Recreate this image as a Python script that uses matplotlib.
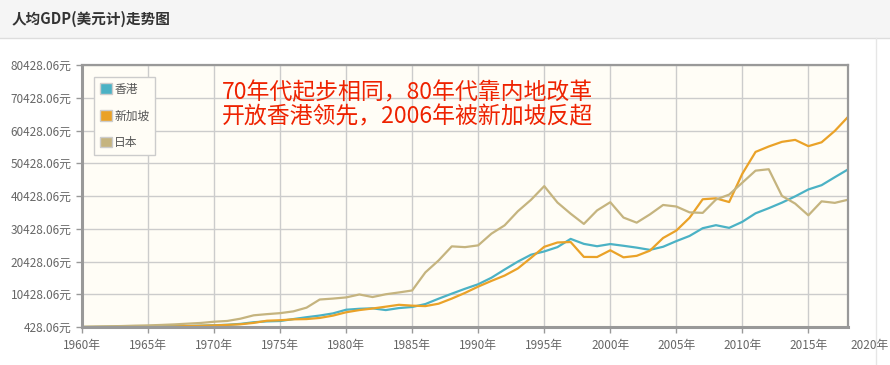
import matplotlib.pyplot as plt
import matplotlib.patches as mpatches

plt.rcParams['font.family'] = ['Noto Sans CJK SC', 'DejaVu Sans']

years = list(range(1960, 2019))

# 人均GDP (美元)
hong_kong = [429, 442, 485, 561, 636, 713, 718, 765, 735, 832,
             960, 1104, 1379, 1886, 2145, 2253, 2844, 3418, 3926, 4581,
             5700, 5991, 6134, 5595, 6208, 6543, 7435, 9072, 10610, 12098,
             13486, 15466, 17976, 20396, 22503, 23497, 24818, 27330, 25809, 25092,
             25757, 25230, 24666, 23977, 24928, 26650, 28224, 30594, 31516, 30697,
             32550, 35142, 36708, 38404, 40315, 42431, 43731, 46166, 48543]
singapore = [428, 449, 472, 511, 485, 517, 567, 626, 708, 813,
             925, 1071, 1264, 1685, 2342, 2490, 2770, 2846, 3194, 3900,
             4928, 5596, 6078, 6633, 7206, 6945, 6809, 7539, 9104, 10838,
             12766, 14502, 16136, 18302, 21553, 24915, 26233, 26376, 21829, 21796,
             23852, 21700, 22160, 23730, 27608, 29870, 33769, 39432, 39721, 38578,
             47237, 53891, 55546, 56967, 57563, 55647, 56828, 60298, 64582]
japan = [479, 563, 633, 718, 836, 919, 1058, 1228, 1450, 1669,
         2037, 2272, 2967, 3997, 4354, 4659, 5198, 6335, 8821, 9105,
         9463, 10361, 9578, 10425, 10978, 11585, 17112, 20745, 25051, 24813,
         25359, 28925, 31465, 35766, 39269, 43440, 38437, 35022, 31903, 36027,
         38532, 33846, 32289, 34808, 37689, 37218, 35434, 35275, 39339, 40855,
         44508, 48168, 48603, 40454, 38109, 34524, 38794, 38332, 39290]

series_names = ['香港', '新加坡', '日本']
series_colors = ['#4bb2c5', '#eaa228', '#c5b47f']

y_min = 428.06
y_ticks = [y_min + 10000 * i for i in range(9)]
x_ticks = list(range(1960, 2020, 5))

note_text = "70年代起步相同，80年代靠内地改革\n开放香港领先，2006年被新加坡反超"

fig = plt.figure(figsize = (8.9, 3.65), dpi = 100)
fig.patch.set_facecolor('white')

# title bar
fig.patches.append(mpatches.Rectangle((0, 1 - 38 / 365), 1, 38 / 365,
                                      transform = fig.transFigure,
                                      facecolor = '#f5f5f5',
                                      edgecolor = 'none', zorder = 0))
fig.lines.append(plt.Line2D([0, 1], [1 - 38 / 365, 1 - 38 / 365],
                            transform = fig.transFigure,
                            color = '#dddddd', linewidth = 1))
fig.lines.append(plt.Line2D([876 / 890, 876 / 890], [0, 1 - 38 / 365],
                            transform = fig.transFigure,
                            color = '#e6e6e6', linewidth = 1))
fig.text(12 / 890, 1 - 19 / 365, '人均GDP(美元计)走势图',
         fontsize = 10.5, fontweight = 'bold', color = '#333333',
         va = 'center', ha = 'left')

ax = fig.add_axes([82 / 890, 1 - 327 / 365, (848 - 82) / 890, (327 - 65) / 365])
ax.set_facecolor('#fffdf6')

for values, name, color in zip([hong_kong, singapore, japan],
                               series_names, series_colors):
    ax.plot(years, values, color = color, linewidth = 1.6,
            label = name, solid_joinstyle = 'round')

ax.set_xlim(1960, 2018)
ax.set_ylim(y_min, y_ticks[-1])

ax.set_xticks(x_ticks)
ax.set_xticklabels([f'{y}年' for y in x_ticks])
ax.set_yticks(y_ticks)
ax.set_yticklabels([f'{v:.2f}元' for v in y_ticks])

# 2020 tick lies beyond the plotted range, label sits at the figure edge
fig.text(889 / 890, 1 - 345 / 365, '2020年', ha = 'right', va = 'center',
         fontsize = 8.5, color = '#666666')

ax.grid(True, color = '#cccccc', linewidth = 1)
ax.set_axisbelow(True)
ax.tick_params(axis = 'both', colors = '#999999', labelcolor = '#666666',
               labelsize = 8.5, length = 4, width = 1)
ax.tick_params(axis = 'x', pad = 5)

for side, spine in ax.spines.items():
    spine.set_color('#999999')
    spine.set_linewidth(2.2 if side in ('left', 'bottom') else 1.6)

# colored squares for the legend
leg_handles = [mpatches.Patch(facecolor = c, edgecolor = '#cccccc') for c in series_colors]
ax.legend(leg_handles, series_names, loc = 'upper left',
          bbox_to_anchor = (0.016, 0.955), frameon = True, fancybox = False,
          fontsize = 8.5, handlelength = 1.0, handleheight = 1.0,
          handletextpad = 0.2, labelspacing = 1.15, borderpad = 0.5,
          borderaxespad = 0, edgecolor = '#cccccc', facecolor = '#fffdf6',
          framealpha = 1, labelcolor = '#555555')

ax.text(0.182, 0.94, note_text, transform = ax.transAxes,
        fontsize = 16.5, color = '#ee2200', ha = 'left', va = 'top',
        linespacing = 1.1)

plt.savefig('out.png', dpi = 100)
